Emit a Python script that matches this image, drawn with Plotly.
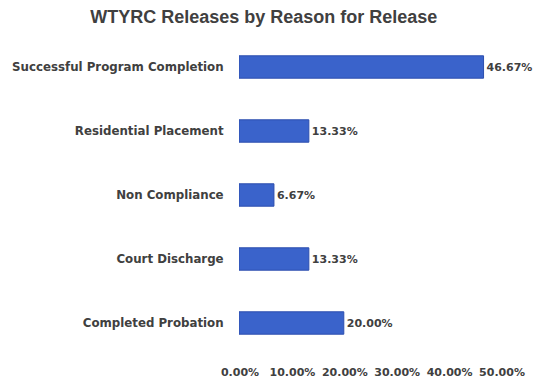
import plotly.graph_objects as go

categories = ["Successful Program Completion", "Residential Placement", "Non Compliance",
              "Court Discharge", "Completed Probation"]
values = [0.4667, 0.1333, 0.0667, 0.1333, 0.20]
labels = ["46.67%", "13.33%", "6.67%", "13.33%", "20.00%"]
x_ticks = [0, 0.1, 0.2, 0.3, 0.4, 0.5]
x_tick_labels = ["0.00%", "10.00%", "20.00%", "30.00%", "40.00%", "50.00%"]

font = "DejaVu Sans, Verdana, sans-serif"
tfont = "Liberation Sans, Arial, sans-serif"
txt = "#404040"

fig = go.Figure(go.Bar(
    x=values, y=categories, orientation="h",
    marker=dict(color="#3a63cb", line=dict(color="#2c4eae", width=1)),
    width=0.35,
    text=labels, textposition="outside", cliponaxis=False,
    textfont=dict(family=font, size=11, color=txt, weight="bold"),
))
fig.update_layout(
    width=534, height=381,
    margin=dict(l=239, r=33, t=35, b=26, autoexpand=False),
    paper_bgcolor="white", plot_bgcolor="white",
    title=dict(text="<b>WTYRC Releases by Reason for Release</b>", x=0.494, xanchor="center",
               y=0.955, yanchor="middle",
               font=dict(family=tfont, size=18, color=txt)),
    showlegend=False,
    xaxis=dict(range=[0, 0.5], tickvals=x_ticks, ticktext=x_tick_labels,
               automargin=False,
               showgrid=False, zeroline=False, showline=False,
               ticks="outside", ticklen=7, tickcolor="rgba(0,0,0,0)",
               ticklabelshift=1,
               tickfont=dict(family=font, size=11, color=txt, weight="bold")),
    yaxis=dict(autorange="reversed", showgrid=False, zeroline=False, showline=False,
               automargin=False,
               ticks="outside", ticklen=12, tickcolor="rgba(0,0,0,0)",
               tickfont=dict(family=font, size=11.8, color=txt, weight="bold")),
)
fig.write_html("out.html", config={"displayModeBar": False},
               post_script="document.body.style.margin='0';document.body.style.overflow='hidden';")
